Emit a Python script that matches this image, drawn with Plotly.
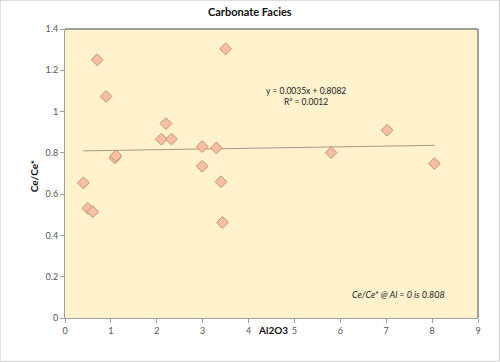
import plotly.graph_objects as go

al2o3 = [0.40, 0.50, 0.605, 0.70, 0.895, 1.085, 1.11, 2.10, 2.20, 2.32, 2.99, 2.99,
         3.30, 3.40, 3.43, 3.50, 5.80, 7.02, 8.05]
ce_ratio = [0.655, 0.531, 0.515, 1.251, 1.073, 0.775, 0.785, 0.866, 0.942, 0.867,
            0.830, 0.735, 0.824, 0.660, 0.463, 1.304, 0.801, 0.910, 0.748]
trend_slope = 0.0035
trend_intercept = 0.8082
x_ticks = [0, 1, 2, 3, 4, 5, 6, 7, 8, 9]
y_ticks = [0, 0.2, 0.4, 0.6, 0.8, 1, 1.2, 1.4]
y_tick_text = ["0", "0.2", "0.4", "0.6", "0.8", "1", "1.2", "1.4"]

FONT = "Lato, Open Sans, sans-serif"

trend_x = [min(al2o3), max(al2o3)]
trend_y = [trend_slope * v + trend_intercept for v in trend_x]

fig = go.Figure()
fig.add_trace(go.Scatter(x=trend_x, y=trend_y, mode="lines",
                         line=dict(color="#A39B80", width=1), hoverinfo="skip"))
fig.add_trace(go.Scatter(x=al2o3, y=ce_ratio, mode="markers",
                         marker=dict(symbol="diamond", size=9, color="#F7BFA6",
                                     line=dict(color="#C4906F", width=1))))

fig.update_layout(
    width=500, height=362,
    margin=dict(l=65, r=22, t=29, b=44),
    paper_bgcolor="white", plot_bgcolor="#FFF2CC",
    showlegend=False,
    font=dict(family=FONT, size=9, color="#555555"),
    xaxis=dict(range=[0, 9], tickvals=x_ticks, showgrid=False, zeroline=False,
               showline=True, linecolor="#A0A0A0", linewidth=1, mirror=False,
               ticks="outside", ticklen=4, tickcolor="#A0A0A0",
               tickfont=dict(size=9, color="#555555")),
    yaxis=dict(range=[0, 1.4], tickvals=y_ticks, ticktext=y_tick_text, showgrid=False,
               zeroline=False, showline=True, linecolor="#A0A0A0", linewidth=1,
               ticks="outside", ticklen=4, tickcolor="#A0A0A0",
               tickfont=dict(size=9, color="#555555")),
    shapes=[
        # outer chart frame
        dict(type="rect", xref="paper", yref="paper",
             x0=-0.1570, x1=1.0517, y0=-0.150, y1=1.0996,
             line=dict(color="#D0D0D0", width=1), layer="below"),
        # plot area border top / right
        dict(type="line", xref="paper", yref="paper", x0=0, x1=1, y0=1, y1=1,
             line=dict(color="#808080", width=1.5)),
        dict(type="line", xref="paper", yref="paper", x0=1, x1=1, y0=0, y1=1,
             line=dict(color="#808080", width=1.5)),
    ],
    annotations=[
        dict(text="<b>Carbonate Facies</b>", xref="paper", yref="paper",
             x=0.448, y=1.060, xanchor="center", yanchor="middle", showarrow=False,
             font=dict(family=FONT, size=11, color="#111111")),
        dict(text="<b>Ce/Ce*</b>", xref="paper", yref="paper", x=-0.073, y=0.49,
             xanchor="center", yanchor="middle", textangle=-90, showarrow=False,
             font=dict(family=FONT, size=10, color="#111111")),
        dict(text="<b>Al2O3</b>", xref="paper", yref="paper", x=0.504, y=-0.043,
             xanchor="center", yanchor="middle", showarrow=False,
             font=dict(family=FONT, size=10, color="#111111")),
        dict(text="y = 0.0035x + 0.8082<br>R² = 0.0012", xref="paper", yref="paper",
             x=0.584, y=0.766, xanchor="center", yanchor="middle", showarrow=False,
             align="center", font=dict(family=FONT, size=8.5, color="#222222")),
        dict(text="<i>Ce/Ce* @ Al = 0 is 0.808</i>", xref="paper", yref="paper",
             x=0.807, y=0.081, xanchor="center", yanchor="middle", showarrow=False,
             font=dict(family=FONT, size=9, color="#222222")),
    ],
)

fig.write_html("out.html", config={"displayModeBar": False},
               post_script="document.body.style.margin='0px';")
